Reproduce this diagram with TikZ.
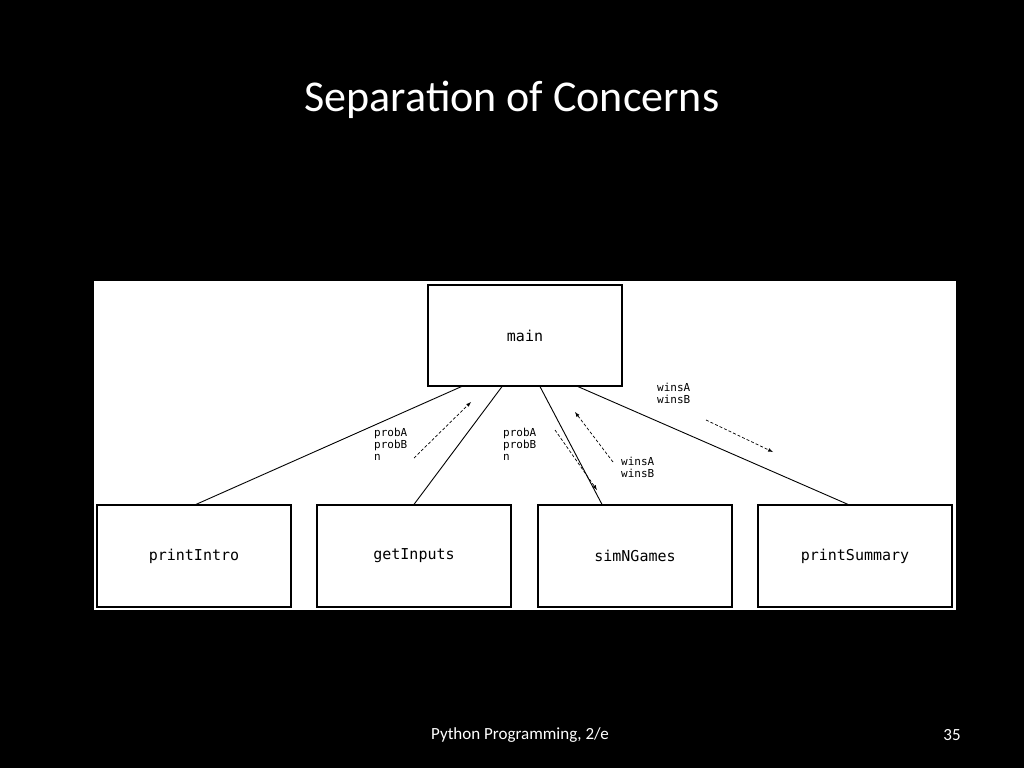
\documentclass[tikz,border=0pt]{standalone}
\usepackage{fontspec}
\setmainfont{Carlito}
\newfontfamily\boxfont{DejaVu Sans Mono}
\begin{document}
\begin{tikzpicture}[x=1pt,y=-1pt,
  fbox/.style={draw=black,line width=1.2pt,fill=white,inner sep=0pt},
  lbl/.style={font=\boxfont\fontsize{11}{12}\selectfont,align=left,anchor=north west,inner sep=0pt},
  conn/.style={line width=0.9pt},
  arr/.style={line width=0.7pt,densely dashed,-latex}]
\useasboundingbox[fill=black] (0,0) rectangle (1024,768);
\fill[white] (94,281) rectangle (956,610);
\node[text=white,font=\fontsize{44}{50}\selectfont] (title) at (512,100) {Separation of Concerns};
\node[fbox,minimum width=194pt,minimum height=101pt,font=\boxfont\fontsize{15}{16}\selectfont] (main) at (525,335.5) {main};
\foreach \n/\x/\t in {pi/194/printIntro,gi/414/getInputs,sn/635/simNGames,ps/855/printSummary}
  \node[fbox,minimum width=194pt,minimum height=102pt,font=\boxfont\fontsize{15}{16}\selectfont] (\n) at (\x,556) {\t};
\draw[conn] (main.south west)++(34,0) -- ([xshift=2pt]pi.north);
\draw[conn] ([xshift=-23pt]main.south) -- (gi.north);
\draw[conn] ([xshift=15pt]main.south) -- ([xshift=-33pt]sn.north);
\draw[conn] ([xshift=53pt]main.south) -- ([xshift=-7pt]ps.north);
\coordinate (a1s) at (414,458); \coordinate (a1e) at (471,402);
\coordinate (a2s) at (555,430); \coordinate (a2e) at (597,490);
\coordinate (a3s) at (613,462); \coordinate (a3e) at (575,412);
\coordinate (a4s) at (706,420); \coordinate (a4e) at (773,452);
\draw[arr] (a1s) -- (a1e);
\draw[arr] (a2s) -- (a2e);
\draw[arr] (a3s) -- (a3e);
\draw[arr] (a4s) -- (a4e);
\node[lbl] (l1) at (374,428) {probA\\probB\\n};
\node[lbl] (l2) at (503,428) {probA\\probB\\n};
\node[lbl] (l3) at (621,457) {winsA\\winsB};
\node[lbl] (l4) at (657,383) {winsA\\winsB};
\node[text=white,font=\fontsize{17}{20}\selectfont] (foot) at (520,735) {Python Programming, 2/e};
\node[text=white,font=\fontsize{17}{20}\selectfont] (num) at (952,735) {35};
\end{tikzpicture}
\end{document}
